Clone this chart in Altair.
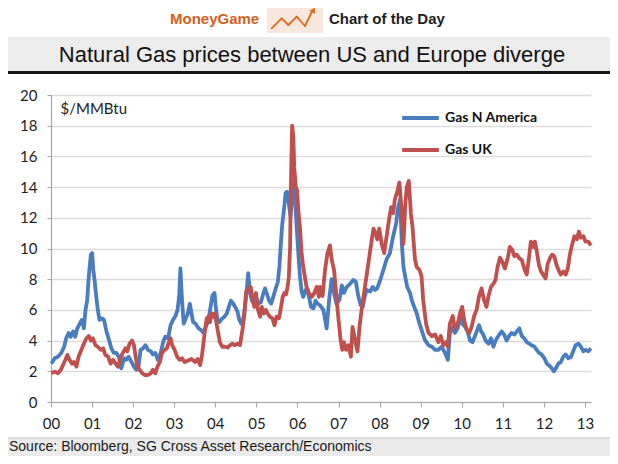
import altair as alt
import pandas as pd

# ---------------- data ----------------
na_year = [
    2000.01, 2000.09, 2000.17, 2000.25, 2000.32, 2000.37, 2000.43, 2000.48, 2000.54, 2000.59,
    2000.64, 2000.70, 2000.75, 2000.80, 2000.84, 2000.88, 2000.92, 2000.97, 2001.00, 2001.03,
    2001.06, 2001.10, 2001.14, 2001.18, 2001.24, 2001.29, 2001.35, 2001.40, 2001.47, 2001.53,
    2001.59, 2001.65, 2001.71, 2001.78, 2001.83, 2001.89, 2001.96, 2002.02, 2002.08, 2002.13,
    2002.18, 2002.24, 2002.30, 2002.36, 2002.43, 2002.48, 2002.54, 2002.60, 2002.67, 2002.73,
    2002.78, 2002.85, 2002.91, 2002.97, 2003.03, 2003.08, 2003.12, 2003.15, 2003.19, 2003.23,
    2003.26, 2003.33, 2003.38, 2003.42, 2003.46, 2003.52, 2003.59, 2003.65, 2003.71, 2003.77,
    2003.83, 2003.89, 2003.93, 2003.98, 2004.01, 2004.05, 2004.10, 2004.15, 2004.22, 2004.28,
    2004.33, 2004.38, 2004.44, 2004.50, 2004.54, 2004.58, 2004.63, 2004.68, 2004.72, 2004.76,
    2004.80, 2004.84, 2004.89, 2004.94, 2004.99, 2005.05, 2005.11, 2005.17, 2005.21, 2005.25,
    2005.31, 2005.36, 2005.41, 2005.47, 2005.52, 2005.56, 2005.59, 2005.63, 2005.67, 2005.71,
    2005.75, 2005.79, 2005.83, 2005.87, 2005.91, 2005.94, 2005.98, 2006.02, 2006.06, 2006.10,
    2006.14, 2006.20, 2006.26, 2006.33, 2006.39, 2006.44, 2006.49, 2006.55, 2006.63, 2006.71,
    2006.77, 2006.83, 2006.89, 2006.95, 2007.02, 2007.08, 2007.13, 2007.20, 2007.28, 2007.36,
    2007.42, 2007.48, 2007.54, 2007.59, 2007.64, 2007.68, 2007.77, 2007.83, 2007.89, 2007.94,
    2008.01, 2008.09, 2008.17, 2008.25, 2008.33, 2008.40, 2008.45, 2008.50, 2008.54, 2008.58,
    2008.62, 2008.67, 2008.74, 2008.78, 2008.84, 2008.90, 2008.97, 2009.02, 2009.10, 2009.19,
    2009.27, 2009.35, 2009.43, 2009.51, 2009.59, 2009.66, 2009.71, 2009.79, 2009.83, 2009.90,
    2009.96, 2010.01, 2010.08, 2010.14, 2010.20, 2010.26, 2010.32, 2010.39, 2010.42, 2010.47,
    2010.52, 2010.58, 2010.65, 2010.71, 2010.77, 2010.82, 2010.89, 2010.97, 2011.03, 2011.09,
    2011.15, 2011.21, 2011.28, 2011.34, 2011.40, 2011.46, 2011.52, 2011.58, 2011.64, 2011.70,
    2011.77, 2011.82, 2011.88, 2011.94, 2012.01, 2012.07, 2012.12, 2012.19, 2012.24, 2012.29,
    2012.35, 2012.41, 2012.47, 2012.53, 2012.59, 2012.66, 2012.71, 2012.77, 2012.84, 2012.90,
    2012.96, 2013.01, 2013.08, 2013.14,
]
na_price = [
    2.5, 2.85, 2.95, 3.2, 3.6, 4.15, 4.5, 4.25, 4.6, 4.25,
    4.8, 5.1, 5.35, 4.8, 6.0, 6.6, 8.2, 9.6, 9.7, 8.6,
    7.95, 6.9, 6.0, 5.35, 5.45, 5.35, 4.6, 4.15, 3.5, 3.2,
    3.2, 2.95, 2.2, 2.85, 2.75, 2.95, 2.6, 2.3, 2.1, 2.3,
    3.4, 3.5, 3.7, 3.4, 3.3, 3.1, 3.2, 2.75, 3.2, 3.9,
    4.25, 4.15, 5.0, 5.35, 5.6, 6.0, 6.9, 8.7, 6.6, 5.1,
    5.3, 5.77, 6.4, 5.77, 5.2, 5.1, 4.8, 4.7, 4.5, 4.9,
    5.3, 6.3, 6.95, 7.1, 6.2, 5.4, 5.2, 5.4, 5.55, 5.77,
    6.2, 6.6, 6.4, 6.1, 5.9, 5.4, 5.1, 5.4, 6.2, 7.1,
    8.4, 7.2, 6.6, 6.4, 6.85, 6.4, 6.5, 7.1, 7.4, 7.1,
    6.6, 6.4, 6.85, 7.4, 7.8, 8.8, 10.1, 11.6, 12.5, 13.6,
    13.7, 12.9, 12.1, 13.4, 14.5, 13.2, 11.4, 9.7, 8.2, 7.2,
    6.85, 7.3, 7.1, 6.2, 6.1, 6.6, 6.4, 6.3, 6.0, 4.8,
    6.65, 8.0, 7.1, 6.4, 6.65, 7.6, 7.1, 7.5, 7.7, 7.95,
    7.85, 6.9, 6.3, 6.2, 6.9, 7.3, 7.2, 7.5, 7.3, 7.4,
    7.9, 8.6, 9.3, 9.7, 10.8, 11.6, 12.7, 13.2, 10.3, 8.8,
    8.2, 7.5, 7.1, 6.65, 6.2, 5.8, 5.1, 4.7, 4.05, 3.7,
    3.6, 3.4, 3.4, 3.6, 3.2, 2.75, 4.5, 4.9, 4.5, 4.8,
    5.6, 5.1, 4.9, 4.6, 4.0, 3.9, 4.3, 4.8, 5.0, 4.6,
    4.4, 4.0, 3.8, 4.15, 3.6, 4.0, 4.3, 4.6, 4.4, 4.0,
    4.3, 4.5, 4.4, 4.6, 4.8, 4.3, 4.15, 3.9, 3.8, 3.7,
    3.6, 3.4, 3.2, 3.1, 2.85, 2.5, 2.4, 2.2, 2.0, 2.2,
    2.5, 2.6, 2.95, 3.1, 2.85, 2.95, 3.3, 3.7, 3.8, 3.6,
    3.3, 3.4, 3.3, 3.5,
]

uk_year = [
    2000.01, 2000.09, 2000.17, 2000.24, 2000.29, 2000.35, 2000.40, 2000.45, 2000.51, 2000.56,
    2000.62, 2000.67, 2000.74, 2000.80, 2000.86, 2000.92, 2000.97, 2001.02, 2001.08, 2001.14,
    2001.21, 2001.27, 2001.32, 2001.39, 2001.45, 2001.51, 2001.57, 2001.63, 2001.70, 2001.75,
    2001.81, 2001.86, 2001.91, 2001.97, 2002.02, 2002.06, 2002.10, 2002.16, 2002.22, 2002.28,
    2002.36, 2002.43, 2002.48, 2002.54, 2002.59, 2002.65, 2002.70, 2002.77, 2002.82, 2002.87,
    2002.91, 2002.95, 2003.01, 2003.07, 2003.13, 2003.19, 2003.25, 2003.34, 2003.42, 2003.51,
    2003.57, 2003.63, 2003.67, 2003.71, 2003.75, 2003.79, 2003.83, 2003.87, 2003.91, 2003.95,
    2003.99, 2004.03, 2004.07, 2004.11, 2004.17, 2004.24, 2004.30, 2004.36, 2004.41, 2004.48,
    2004.54, 2004.60, 2004.66, 2004.71, 2004.75, 2004.80, 2004.86, 2004.90, 2004.95, 2004.99,
    2005.03, 2005.09, 2005.13, 2005.18, 2005.23, 2005.27, 2005.33, 2005.39, 2005.44, 2005.49,
    2005.55, 2005.60, 2005.64, 2005.68, 2005.72, 2005.76, 2005.79, 2005.82, 2005.84, 2005.87,
    2005.90, 2005.92, 2005.96, 2005.99, 2006.02, 2006.06, 2006.10, 2006.14, 2006.18, 2006.22,
    2006.28, 2006.35, 2006.41, 2006.47, 2006.52, 2006.55, 2006.61, 2006.67, 2006.73, 2006.79,
    2006.83, 2006.89, 2006.94, 2006.99, 2007.05, 2007.09, 2007.13, 2007.18, 2007.24, 2007.30,
    2007.34, 2007.40, 2007.46, 2007.51, 2007.56, 2007.62, 2007.68, 2007.75, 2007.81, 2007.85,
    2007.90, 2007.94, 2007.99, 2008.05, 2008.11, 2008.17, 2008.23, 2008.28, 2008.33, 2008.37,
    2008.43, 2008.48, 2008.52, 2008.58, 2008.62, 2008.66, 2008.71, 2008.76, 2008.80, 2008.86,
    2008.90, 2008.97, 2009.02, 2009.06, 2009.13, 2009.19, 2009.27, 2009.35, 2009.43, 2009.49,
    2009.55, 2009.62, 2009.66, 2009.71, 2009.78, 2009.83, 2009.90, 2009.96, 2010.01, 2010.06,
    2010.12, 2010.18, 2010.24, 2010.30, 2010.36, 2010.42, 2010.48, 2010.54, 2010.60, 2010.65,
    2010.71, 2010.77, 2010.82, 2010.87, 2010.93, 2010.99, 2011.05, 2011.12, 2011.17, 2011.23,
    2011.28, 2011.34, 2011.39, 2011.46, 2011.52, 2011.58, 2011.64, 2011.68, 2011.74, 2011.78,
    2011.82, 2011.88, 2011.93, 2011.98, 2012.04, 2012.09, 2012.15, 2012.20, 2012.25, 2012.31,
    2012.37, 2012.41, 2012.47, 2012.53, 2012.58, 2012.63, 2012.69, 2012.74, 2012.80, 2012.85,
    2012.90, 2012.96, 2013.01, 2013.08, 2013.14,
]
uk_price = [
    1.87, 1.98, 1.87, 2.1, 2.4, 2.75, 3.07, 2.75, 2.5, 2.6,
    2.3, 2.95, 3.4, 3.8, 4.15, 4.3, 4.0, 4.15, 3.7, 3.6,
    3.4, 3.5, 3.07, 2.95, 2.5, 2.75, 2.5, 2.3, 2.95, 3.2,
    3.5, 3.3, 3.8, 4.0, 3.7, 2.95, 2.3, 2.1, 1.87, 1.76,
    1.76, 1.87, 2.1, 1.87, 2.3, 2.6, 3.2, 3.4, 3.5, 3.9,
    4.15, 3.7, 3.4, 2.95, 2.75, 2.85, 2.6, 2.7, 2.8, 2.6,
    2.8, 2.4, 2.95, 3.8, 4.7, 5.45, 5.55, 5.2, 5.77, 5.55,
    5.77, 5.1, 4.5, 3.9, 3.6, 3.6, 3.55, 3.7, 3.8, 3.7,
    3.8, 3.7, 4.7, 5.77, 7.2, 7.3, 7.5, 6.85, 6.2, 7.1,
    6.1, 5.55, 6.2, 5.77, 6.0, 5.77, 5.55, 5.45, 5.0, 5.55,
    5.45, 6.2, 6.85, 7.1, 7.0, 7.5, 8.15, 10.1, 14.2, 18.0,
    17.3, 15.3, 14.0, 13.8, 12.5, 11.4, 9.7, 8.8, 8.15, 7.5,
    7.1, 6.85, 7.1, 7.5, 6.85, 7.5, 6.9, 8.6, 9.7, 10.2,
    9.3, 8.6, 7.1, 5.6, 4.05, 3.4, 3.9, 3.4, 3.7, 2.95,
    4.9, 4.05, 3.3, 4.9, 6.0, 7.1, 8.2, 9.5, 10.6, 11.3,
    11.0, 10.6, 11.3, 10.3, 9.7, 10.8, 11.9, 12.7, 12.3, 13.2,
    13.7, 14.3, 13.0, 10.3, 12.7, 14.0, 14.4, 12.3, 11.4, 9.3,
    8.8, 8.6, 8.2, 6.65, 5.1, 4.5, 4.3, 4.4, 3.9, 4.3,
    3.7, 3.9, 3.6, 5.1, 5.6, 4.8, 5.1, 5.8, 6.2, 5.3,
    4.7, 4.5, 4.9, 5.6, 6.0, 6.9, 7.4, 6.65, 6.2, 6.9,
    7.5, 7.7, 7.95, 8.8, 9.4, 9.1, 8.7, 9.4, 10.1, 9.9,
    9.5, 9.6, 9.4, 9.25, 8.7, 8.3, 9.5, 10.45, 10.1, 10.45,
    9.9, 8.9, 8.5, 8.3, 8.05, 9.0, 9.4, 9.6, 9.5, 8.9,
    8.5, 8.3, 8.5, 8.3, 8.7, 9.6, 10.3, 10.8, 10.6, 11.1,
    10.7, 10.8, 10.45, 10.45, 10.2,
]

series_names = ["Gas N America", "Gas UK"]
series_colors = ["#4a7dbf", "#c0504d"]
year_ticks = list(range(2000, 2014))
price_ticks = list(range(0, 21, 2))

title_text = "Natural Gas prices between US and Europe diverge"
brand_text = "MoneyGame"
header_text = "Chart of the Day"
unit_text = "$/MMBtu"
source_text = "Source: Bloomberg, SG Cross Asset Research/Economics"

df = pd.concat([
    pd.DataFrame({"year": na_year, "price": na_price, "series": series_names[0]}),
    pd.DataFrame({"year": uk_year, "price": uk_price, "series": series_names[1]}),
], ignore_index=True)

one = pd.DataFrame({"k": [0]})

# plot area: 540 x 307 at (43, 87) inside a 602 x 448 canvas
W, H = 540, 307
L, T = 43, 87
CW, CH = 602, 448


def band(y0, y1, color, x0=-L, x1=CW - L):
    return alt.Chart(one).mark_rect(color=color).encode(
        x=alt.value(x0), x2=alt.value(x1), y=alt.value(y0), y2=alt.value(y1))


def seg(x0, y0, x1, y1, color, width):
    return alt.Chart(one).mark_rule(color=color, strokeWidth=width, strokeCap="round").encode(
        x=alt.value(x0), y=alt.value(y0), x2=alt.value(x1), y2=alt.value(y1))


def label(txt, x, y, size, color, weight="normal", font="Liberation Sans", align="left"):
    return alt.Chart(one).mark_text(
        text=txt, fontSize=size, font=font, fontWeight=weight, color=color,
        align=align, baseline="middle").encode(x=alt.value(x), y=alt.value(y))


layers = [
    band(-L - 10, -58, "#f3efec"),
    band(-58, -24, "#ececec"),
    band(-24, -21, "#151515"),
    band(343, CH - T + 5, "#ebebeb"),
    seg(-L, 343, CW - L, 343, "#c4c4c4", 1),
    band(-92, -62, "#f7e7dd", x0=216, x1=272),
]
logo_pts = [(220.7, -66.7), (230.7, -76.7), (237.3, -70.0), (245.7, -78.3), (254.0, -69.0), (261.0, -83.5)]
for (a, b), (c, d) in zip(logo_pts[:-1], logo_pts[1:]):
    layers.append(seg(a, b, c, d, "#e0691f", 1.8))
layers.append(alt.Chart(one).mark_point(shape="triangle-up", filled=True, size=40, angle=30,
                                        color="#e0691f", opacity=1).encode(
    x=alt.value(262.5), y=alt.value(-85)))

layers += [
    label(brand_text, 119, -76, 15, "#d5601c", weight="bold"),
    label(header_text, 278, -76, 15, "#1e1e1e", weight="bold"),
    label(title_text, 261, -40, 22, "#111111", align="center"),
    label(source_text, -42, 352, 14, "#1a1a1a"),
]

lines = alt.Chart(df).mark_line(strokeWidth=3.8, strokeJoin="round").encode(
    x=alt.X("year:Q",
            scale=alt.Scale(domain=[2000, 2013.145], nice=False, zero=False),
            axis=alt.Axis(values=year_ticks, labelExpr="slice(toString(datum.value), 2)",
                          title=None, grid=False, domainColor="#a6a6a6", tickColor="#a6a6a6",
                          domainWidth=1.2, tickSize=5, labelPadding=9, labelFlush=False,
                          labelFont="Lato", labelFontSize=15, labelColor="#222222")),
    y=alt.Y("price:Q",
            scale=alt.Scale(domain=[0, 20], nice=False),
            axis=alt.Axis(values=price_ticks, title=unit_text, titleAngle=0, titleX=9, titleY=13,
                          titleAlign="left", titleBaseline="middle", titleFont="Lato",
                          titleFontSize=15, titleFontWeight="normal", titleColor="#222222",
                          grid=True, gridColor="#dcdcdc", gridWidth=1.3,
                          domainColor="#a6a6a6", tickColor="#a6a6a6", domainWidth=1.2,
                          tickSize=4, labelPadding=10, labelFont="Lato", labelFontSize=15,
                          labelColor="#222222")),
    color=alt.Color("series:N",
                    scale=alt.Scale(domain=series_names, range=series_colors),
                    legend=alt.Legend(orient="none", legendX=349, legendY=8, title=None,
                                      symbolType="stroke", symbolSize=1350, symbolStrokeWidth=3.8,
                                      clipHeight=30, rowPadding=2, padding=0, labelOffset=4,
                                      labelFont="Lato", labelFontSize=14, labelFontWeight="bold",
                                      labelColor="#111111")),
)

chart = alt.layer(*layers, lines).properties(
    width=W, height=H,
    autosize=alt.AutoSizeParams(type="none"),
    padding={"left": L, "top": T, "right": CW - L - W, "bottom": CH - T - H},
    background="white",
).configure_view(strokeWidth=0)

chart.save("out.html", embed_options={"renderer": "svg", "actions": False})
